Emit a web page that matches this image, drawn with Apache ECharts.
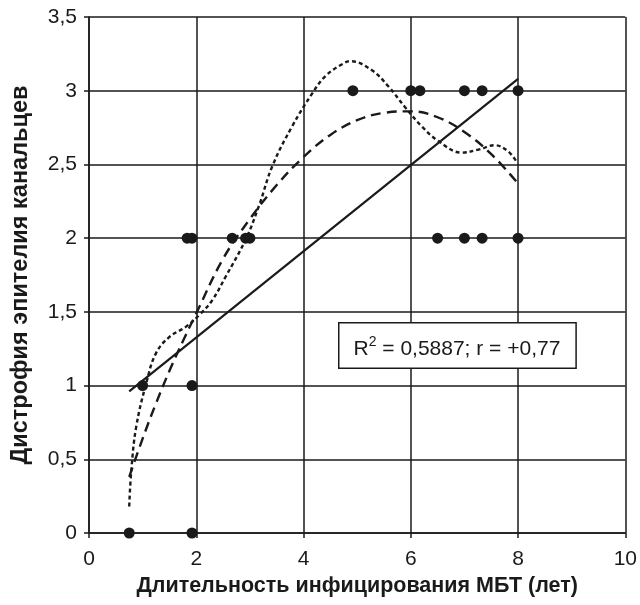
<!DOCTYPE html>
<html>
<head>
<meta charset="utf-8">
<script src="https://cdn.jsdelivr.net/npm/echarts@6/dist/echarts.min.js"></script>
<style>
  html, body { margin: 0; padding: 0; background: #fff; }
  #main { width: 640px; height: 605px; }
</style>
</head>
<body>
<div id="main"></div>
<script>
// observations: duration (years) and dystrophy grade
const pointsX = [0.75, 1.92, 1.0, 1.92, 1.83, 1.92, 2.67, 2.92, 3.0, 6.5, 7.0, 7.33, 8.0, 4.92, 6.0, 6.17, 7.0, 7.33, 8.0];
const pointsY = [0, 0, 1, 1, 2, 2, 2, 2, 2, 2, 2, 2, 2, 3, 3, 3, 3, 3, 3];

// linear trend (read at ends)
const linearX = [0.75, 8.0];
const linearY = [0.96, 3.08];

// dashed trend
const dashX = [0.75, 1.0, 1.25, 1.5, 1.75, 2.0, 2.5, 3.0, 3.5, 4.0, 4.5, 5.0, 5.5, 6.0, 6.5, 7.0, 7.5, 8.0];
const dashY = [0.38, 0.64, 0.88, 1.10, 1.30, 1.49, 1.86, 2.13, 2.36, 2.55, 2.70, 2.80, 2.85, 2.86, 2.82, 2.72, 2.57, 2.37];

// dotted trend
const dotX = [0.75, 0.79, 0.88, 1.07, 1.25, 1.50, 1.81, 2.06, 2.30, 2.55, 2.92, 3.17, 3.42, 3.79, 4.16, 4.41, 4.72, 4.87, 5.27, 5.58, 5.89, 6.20, 6.51, 6.95, 7.26, 7.57, 7.81, 7.97];
const dotY = [0.18, 0.43, 0.72, 1.02, 1.22, 1.33, 1.40, 1.48, 1.58, 1.74, 1.99, 2.22, 2.49, 2.76, 2.98, 3.10, 3.18, 3.20, 3.14, 3.03, 2.89, 2.76, 2.66, 2.58, 2.60, 2.63, 2.59, 2.52];

const zip = (xs, ys) => xs.map((x, i) => [x, ys[i]]);

const ink = '#1a1a1a';
const font = '"Liberation Sans", Arial, sans-serif';

let chart = echarts.init(document.getElementById('main'));
let option = {
    animation: false,
    textStyle: { fontFamily: font },
    grid: { left: 89, right: 13, top: 17, bottom: 72 },
    xAxis: {
        type: 'value',
        min: 0, max: 10, interval: 2,
        name: 'Длительность инфицирования МБТ (лет)',
        nameLocation: 'middle',
        nameGap: 41,
        nameTextStyle: { fontSize: 21.5, fontWeight: 'bold', color: ink, fontFamily: font },
        axisLine: { show: true, lineStyle: { color: ink, width: 1.5 } },
        axisTick: { show: true, length: 5, lineStyle: { color: ink, width: 1.5 } },
        axisLabel: { fontSize: 21, color: ink, margin: 16 },
        splitLine: { show: true, lineStyle: { color: ink, width: 1.5 } }
    },
    yAxis: {
        type: 'value',
        min: 0, max: 3.5, interval: 0.5,
        name: 'Дистрофия эпителия канальцев',
        nameLocation: 'middle',
        nameGap: 56,
        nameTextStyle: { fontSize: 23.5, fontWeight: 'bold', color: ink, fontFamily: font },
        axisLine: { show: true, lineStyle: { color: ink, width: 1.5 } },
        axisTick: { show: true, length: 5, lineStyle: { color: ink, width: 1.5 } },
        axisLabel: {
            fontSize: 21, color: ink, margin: 12,
            formatter: v => String(v).replace('.', ',')
        },
        splitLine: { show: true, lineStyle: { color: ink, width: 1.5 } }
    },
    series: [
        {
            type: 'line',
            data: zip(linearX, linearY),
            showSymbol: false,
            lineStyle: { color: ink, width: 2.2 },
            z: 3
        },
        {
            type: 'line',
            data: zip(dashX, dashY),
            smooth: 0.4,
            showSymbol: false,
            lineStyle: { color: ink, width: 2.4, type: [10, 6] },
            z: 3
        },
        {
            type: 'line',
            data: zip(dotX, dotY),
            smooth: 0.4,
            showSymbol: false,
            lineStyle: { color: ink, width: 2.4, type: [4, 3] },
            z: 3
        },
        {
            type: 'scatter',
            data: zip(pointsX, pointsY),
            symbol: 'circle',
            symbolSize: 11,
            itemStyle: { color: ink, opacity: 1 },
            z: 4
        }
    ],
    graphic: [
        {
            type: 'text',
            left: 338,
            top: 322,
            z: 10,
            style: {
                text: '{a|R}{s|2}{a| = 0,5887; r = +0,77}',
                backgroundColor: '#fff',
                borderColor: ink,
                borderWidth: 1.5,
                padding: [12, 15, 8, 14],
                rich: {
                    a: { fontSize: 21, fill: ink, fontFamily: font, verticalAlign: 'bottom', lineHeight: 24 },
                    s: { fontSize: 14, fill: ink, fontFamily: font, verticalAlign: 'top', lineHeight: 24, padding: [0, 0, 9, 0] }
                }
            }
        }
    ]
};

option && chart.setOption(option);
</script>
</body>
</html>
